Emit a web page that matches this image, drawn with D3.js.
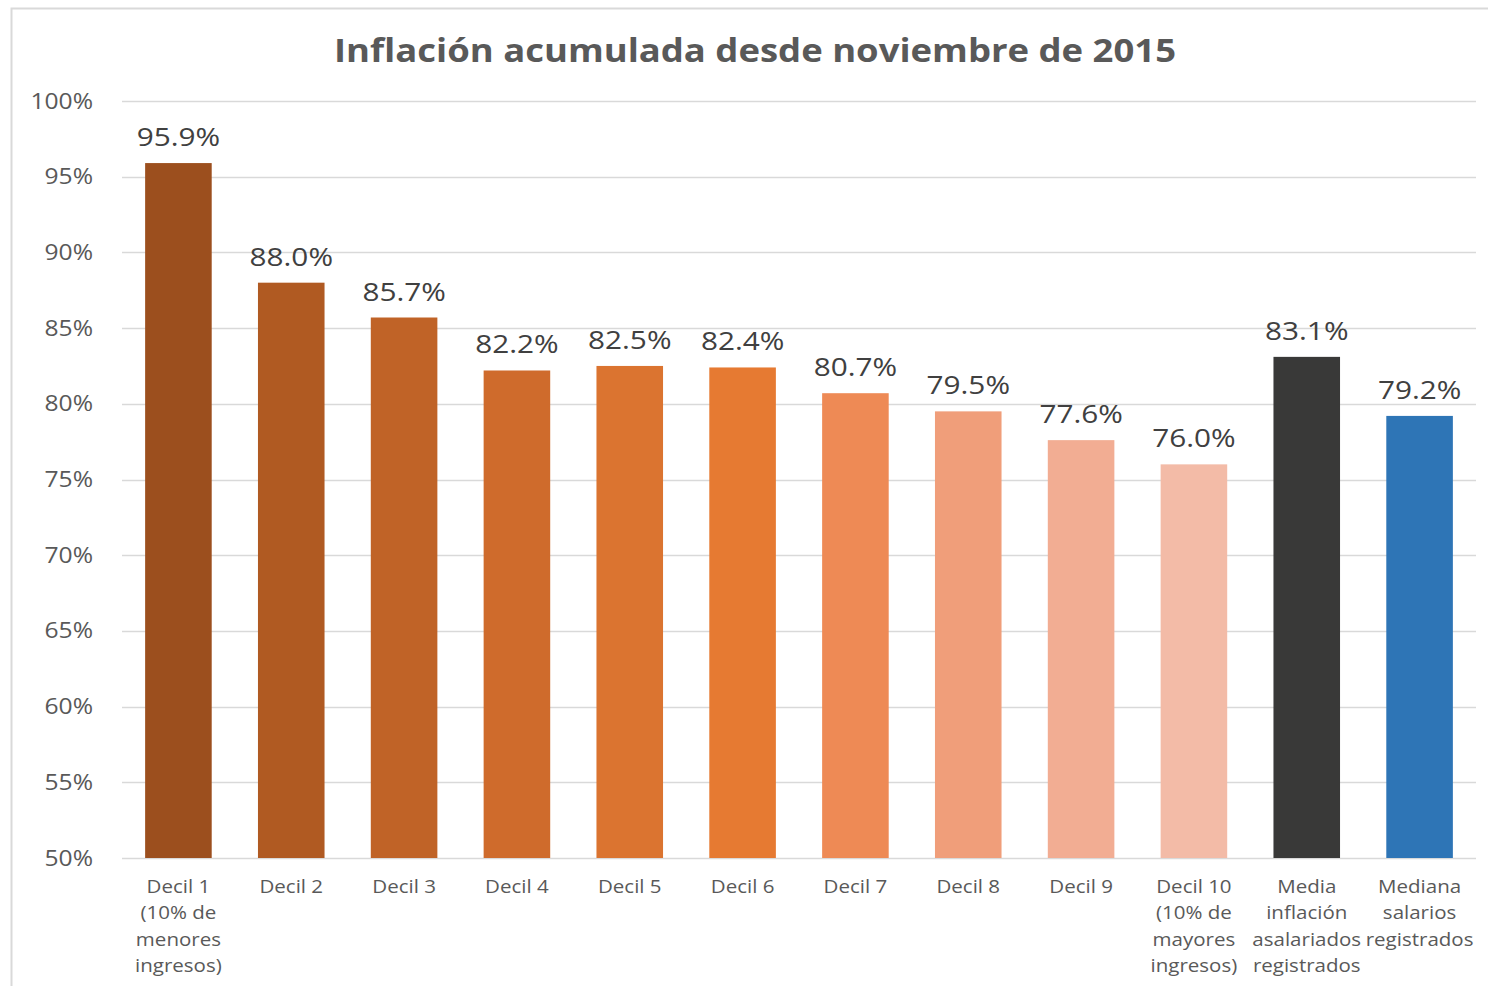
<!DOCTYPE html>
<head>
  <meta charset="utf-8">
  <script src="https://d3js.org/d3.v7.min.js"></script>
  <style>
  *{ margin:0; padding:0; }
  html, body{ background:#fff; overflow:hidden; }
  text{ font-family:'Open Sans', sans-serif; }
  </style>
</head>
<body>
  <svg id="viz"></svg>
  <script>
    // data
    let categories = ["Decil 1", "Decil 2", "Decil 3", "Decil 4", "Decil 5", "Decil 6",
                      "Decil 7", "Decil 8", "Decil 9", "Decil 10", "Media", "Mediana"];
    let labelLines = [
      ["Decil 1", "(10% de", "menores", "ingresos)"],
      ["Decil 2"], ["Decil 3"], ["Decil 4"], ["Decil 5"], ["Decil 6"],
      ["Decil 7"], ["Decil 8"], ["Decil 9"],
      ["Decil 10", "(10% de", "mayores", "ingresos)"],
      ["Media", "inflación", "asalariados", "registrados"],
      ["Mediana", "salarios", "registrados"]
    ];
    let values = [95.9, 88.0, 85.7, 82.2, 82.5, 82.4, 80.7, 79.5, 77.6, 76.0, 83.1, 79.2];
    let colors = ["#9c4f1e", "#b05a22", "#c06327", "#cf6b2c", "#db7430", "#e67a32",
                  "#ee8a55", "#f09e7a", "#f2ad93", "#f3bba7", "#393938", "#2e75b6"];
    let yTicks = [50, 55, 60, 65, 70, 75, 80, 85, 90, 95, 100];
    let title = "Inflación acumulada desde noviembre de 2015";

    let W = 1488, H = 986;
    let svg = d3.select("svg").attr("width", W).attr("height", H);

    //chart border
    svg.append("rect")
      .attr("x", 11.5).attr("y", 8.5)
      .attr("width", W + 20).attr("height", H + 20)
      .attr("fill", "#fff").attr("stroke", "#d9d9d9").attr("stroke-width", 2);

    let plotLeft = 122, plotRight = 1476, plotTop = 101, plotBottom = 858;

    let x = d3.scaleBand().domain(categories).range([plotLeft, plotRight]).paddingInner(0.41).paddingOuter(0.205);
    let y = d3.scaleLinear().domain([50, 100]).range([plotBottom, plotTop]);

    //gridlines
    svg.append("g")
      .selectAll("line")
      .data(yTicks)
      .enter().append("line")
      .attr("x1", plotLeft).attr("x2", plotRight)
      .attr("y1", d => Math.round(y(d)) + 0.5).attr("y2", d => Math.round(y(d)) + 0.5)
      .attr("stroke", "#d9d9d9").attr("stroke-width", 1.3);

    //y axis labels
    let yAxis = svg.append("g")
      .attr("transform", `translate(${93},0)`)
      .call(d3.axisLeft(y).tickValues(yTicks).tickSize(0).tickPadding(0).tickFormat(d => d + "%"));
    yAxis.select(".domain").remove();
    yAxis.selectAll("text")
      .attr("font-size", 22).attr("fill", "#595959")
      .style("font-family", "'Open Sans', sans-serif")
      .attr("transform", "scale(1.12,1)").attr("x", 0);

    //bars
    svg.append("g")
      .selectAll("rect")
      .data(values)
      .enter().append("rect")
      .attr("x", (d, i) => x(categories[i]))
      .attr("width", x.bandwidth())
      .attr("y", d => y(d))
      .attr("height", d => plotBottom - y(d))
      .attr("fill", (d, i) => colors[i]);

    //value labels
    svg.append("g")
      .selectAll("text")
      .data(values)
      .enter().append("text")
      .attr("transform", (d, i) => `translate(${x(categories[i]) + x.bandwidth() / 2},${y(d) - 17}) scale(1.19,1)`)
      .attr("text-anchor", "middle")
      .attr("font-size", 25)
      .attr("fill", "#404040")
      .text(d => d.toFixed(1) + "%");

    //category labels
    let cat = svg.append("g")
      .selectAll("text")
      .data(labelLines)
      .enter().append("text")
      .attr("transform", (d, i) => `translate(${x(categories[i]) + x.bandwidth() / 2},893) scale(1.08,1)`)
      .attr("text-anchor", "middle")
      .attr("font-size", 19)
      .attr("fill", "#595959");
    cat.selectAll("tspan")
      .data(d => d)
      .enter().append("tspan")
      .attr("x", 0)
      .attr("dy", (d, i) => i === 0 ? 0 : 26.5)
      .text(d => d);

    //title
    svg.append("text")
      .attr("transform", "translate(755,62) scale(1.105,1)")
      .attr("text-anchor", "middle")
      .attr("font-size", 33)
      .attr("font-weight", 700)
      .attr("fill", "#595959")
      .text(title);
  </script>
</body>
